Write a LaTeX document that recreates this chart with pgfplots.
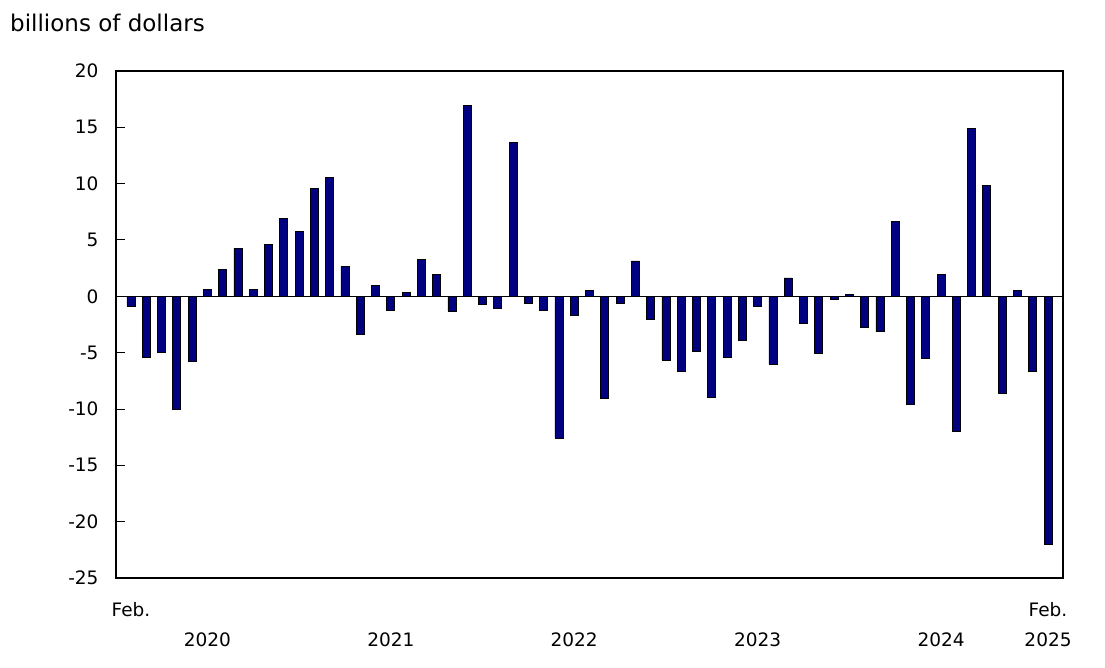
\documentclass[border=0pt]{standalone}
\usepackage{pgfplots}
\pgfplotsset{compat=1.18}
\usepackage{fontspec}
\setmainfont{DejaVu Sans}
\definecolor{barnavy}{RGB}{0,0,128}
\pgfplotstableread{
m v
1 -0.86
2 -5.44
3 -4.94
4 -10.06
5 -5.74
6 0.65
7 2.37
8 4.26
9 0.65
10 4.59
11 6.95
12 5.74
13 9.59
14 10.56
15 2.66
16 -3.34
17 0.95
18 -1.21
19 0.36
20 3.25
21 1.95
22 -1.30
23 16.95
24 -0.74
25 -1.04
26 13.67
27 -0.62
28 -1.21
29 -12.57
30 -1.72
31 0.53
32 -9.05
33 -0.62
34 3.14
35 -2.01
36 -5.65
37 -6.63
38 -4.88
39 -8.99
40 -5.44
41 -3.91
42 -0.92
43 -6.04
44 1.63
45 -2.43
46 -5.03
47 -0.24
48 0.18
49 -2.72
50 -3.14
51 6.63
52 -9.56
53 -5.53
54 1.95
55 -11.95
56 14.94
57 9.82
58 -8.64
59 0.53
60 -6.63
61 -21.98
}\datatable
\begin{document}
\begin{tikzpicture}[x=1pt,y=1pt]
\useasboundingbox (0,0) rectangle (1105,667);
\node[anchor=base west, inner sep=0pt, font=\fontsize{23}{28}\selectfont] at (10,635) {billions of dollars};
\begin{axis}[
  at={(116pt,89pt)}, anchor=south west,
  scale only axis, width=947pt, height=507pt,
  xmin=0.02, xmax=61.98, ymin=-25, ymax=20,
  ytick={-25,-20,...,20},
  xtick={1,6,18,30,42,54,61},
  xticklabels={Feb., {\vphantom{Feb.}\\2020}, {\vphantom{Feb.}\\2021}, {\vphantom{Feb.}\\2022}, {\vphantom{Feb.}\\2023}, {\vphantom{Feb.}\\2024}, {Feb.\\2025}},
  xticklabel style={align=center, anchor=north, font=\fontsize{18.5}{30}\selectfont, yshift=-21pt},
  yticklabel style={font=\fontsize{18.5}{22}\selectfont, xshift=-14pt},
  /pgf/number format/assume math mode=true,
  x tick style={draw=none},
  ytick pos=left, tick align=inside, major tick length=9pt,
  y tick style={black, line width=1pt},
  axis line style={line width=1.2pt},
  extra y ticks={0}, extra y tick labels={},
  extra y tick style={grid=major, major grid style={black, line width=1pt}, major tick length=0pt},
]
\addplot[ybar, bar width=8pt, fill=barnavy, draw=black, line width=0.8pt] table[x=m, y=v] {\datatable};
\end{axis}
\end{tikzpicture}
\end{document}
